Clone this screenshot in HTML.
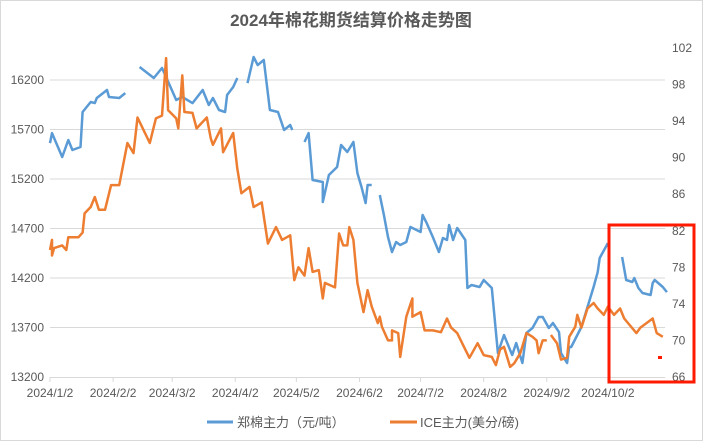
<!DOCTYPE html>
<html><head><meta charset="utf-8"><style>
body{margin:0;background:#fff;}
svg text{font-family:"Liberation Sans","Noto Sans CJK SC",sans-serif;fill:#595959;}
</style></head><body>
<svg id="c" width="703" height="441" viewBox="0 0 703 441">
<rect x="0.5" y="0.5" width="702" height="440" fill="#fff" stroke="#d9d9d9"/>
<text x="351" y="26" text-anchor="middle" font-size="17" font-weight="bold">2024年棉花期货结算价格走势图</text>
<g id="grid"></g><g id="axes"></g><g id="series"></g>
<rect x="609" y="225" width="85" height="157" fill="none" stroke="#ff1a00" stroke-width="3"/>
<rect x="658" y="356" width="4" height="3" fill="#ff1a00"/>
<g>
<line x1="207" y1="422" x2="233" y2="422" stroke="#5b9bd5" stroke-width="3"/>
<text x="237" y="427" font-size="13">郑棉主力（元/吨）</text>
<line x1="390" y1="422" x2="417" y2="422" stroke="#ed7d31" stroke-width="3"/>
<text x="420" y="427" font-size="13">ICE主力(美分/磅)</text>
</g>
</svg>
<script>
const leftTicks=[13200,13700,14200,14700,15200,15700,16200];
const rightTicks=[66,70,74,78,82,86,90,94,98,102];
const monthLabels=["2024/1/2","2024/2/2","2024/3/2","2024/4/2","2024/5/2","2024/6/2","2024/7/2","2024/8/2","2024/9/2","2024/10/2"];
const monthDays=[0,31,60,91,121,152,182,213,244,274];
const zzDays=[0,1,6,9,11,15,16,20,22,23,28,29,34,37,40,44,51,55,57,62,65,70,75,78,80,83,86,87,90,92,94,97,100,102,105,108,112,115,118,119,122,125,127,129,134,134,137,141,143,146,149,151,153,155,156,158,160,162,164,166,168,170,172,175,177,182,183,185,188,191,193,195,196,198,200,204,205,207,211,213,217,220,223,226,227,229,232,234,237,240,242,245,247,250,251,254,255,256,261,264,267,269,270,274,277,281,283,286,287,289,291,295,296,297,301,303];
const zzVals=[15563,15664,15422,15594,15493,15523,15877,15978,15967,16018,16099,16028,16018,16068,null,16331,16220,16321,16230,15998,16028,15967,16099,15947,16018,15897,15877,16048,16129,16220,null,16169,16432,16351,16402,15897,15877,15695,15745,15695,null,15574,15664,15190,15170,14968,15240,15321,15543,15473,15574,15260,15119,14957,15139,15139,null,15038,14836,14614,14463,14564,14533,14564,14715,14665,14836,14755,14614,14463,14604,14584,14735,14584,14705,14584,14099,14129,14109,14180,14099,13442,13624,13473,13422,13543,13341,13644,13695,13806,13806,13695,13745,13654,13442,13341,13503,13503,13705,13907,14109,14260,14402,14553,null,14412,14180,14160,14200,14099,14048,14028,14149,14180,14109,14058];
const iceDays=[0,1,1,2,6,8,9,14,16,17,20,22,24,27,30,34,38,41,43,49,52,55,57,58,62,63,65,66,70,72,77,79,80,84,85,90,92,94,98,100,104,107,111,114,118,120,122,125,127,129,132,134,135,140,142,144,146,147,149,151,154,156,158,161,162,163,166,168,168,171,172,175,178,178,182,184,188,192,195,197,200,204,206,210,213,217,219,221,223,226,228,231,234,237,239,240,242,244,245,246,249,251,254,255,258,259,261,264,267,269,272,274,277,280,282,288,290,293,296,298,301];
const iceVals=[79.9,81.0,79.3,80.1,80.4,79.9,81.3,81.3,81.8,83.9,84.6,85.7,84.3,84.3,87.0,87.0,91.6,90.5,94.4,91.6,94.3,94.6,100.9,95.2,94.3,93.2,99.0,95.0,94.9,93.2,94.4,92.1,91.4,93.2,90.6,92.7,88.8,86.1,86.8,84.6,85.1,80.6,82.4,81.0,81.5,76.6,78.0,77.1,80.1,77.5,77.7,74.6,76.3,75.8,81.7,80.4,80.4,82.4,81.0,76.3,73.1,75.5,73.7,71.9,72.6,71.5,70.0,70.0,71.1,70.8,68.2,72.6,74.6,72.6,73.1,71.1,71.1,70.9,72.4,71.4,70.8,69.0,68.1,69.7,68.4,68.2,67.3,69.0,69.3,67.1,67.5,68.6,70.8,70.4,70.0,68.6,70.0,70.0,null,70.6,69.7,67.9,68.1,70.4,71.5,72.8,71.4,73.5,74.1,73.5,72.8,73.7,72.8,73.5,72.4,70.8,71.4,71.9,72.4,70.8,70.4];

const NS="http://www.w3.org/2000/svg";
const X0=50,X1=665,PX_PER_DAY=2.036;
const xs=d=>X0+d*PX_PER_DAY;
const yL=v=>377-(v-13200)*(297/3000);
const yR=v=>377-(v-66)*(329/36);
function mk(tag,attrs,parent){const e=document.createElementNS(NS,tag);for(const k in attrs)e.setAttribute(k,attrs[k]);parent.appendChild(e);return e;}
const grid=document.getElementById('grid'),axes=document.getElementById('axes'),series=document.getElementById('series');
leftTicks.forEach(v=>{
  const y=yL(v);
  if(v!==13200){const g=mk('line',{x1:X0,x2:X1,y1:y,y2:y,stroke:'#d9d9d9','stroke-width':1},grid);
  
  }
  const t=mk('text',{x:44,y:y+4,'text-anchor':'end','font-size':12},axes);t.textContent=v;
  
  
});
rightTicks.forEach(v=>{
  const t=mk('text',{x:672,y:yR(v)+4,'font-size':12},axes);t.textContent=v;
  
  
});
const ax=mk('line',{x1:X0,x2:X1,y1:377.5,y2:377.5,stroke:'#d9d9d9','stroke-width':1},axes);


monthDays.forEach((d,i)=>{
  const x=xs(d);
  const tk=mk('line',{x1:x,x2:x,y1:377,y2:382,stroke:'#d9d9d9'},axes);
  
  
  const t=mk('text',{x:x,y:397,'text-anchor':'middle','font-size':12},axes);t.textContent=monthLabels[i];
  
  
});
function pathFor(days,vals,yf){let d='',pen=false;for(let i=0;i<days.length;i++){if(vals[i]==null){pen=false;continue;}d+=(pen?'L':'M')+xs(days[i]).toFixed(1)+','+yf(vals[i]).toFixed(1);pen=true;}return d;}
const p1=mk('path',{d:pathFor(zzDays,zzVals,yL),fill:'none',stroke:'#5b9bd5','stroke-width':2.5,'stroke-linejoin':'round'},series);


const p2=mk('path',{d:pathFor(iceDays,iceVals,yR),fill:'none',stroke:'#ed7d31','stroke-width':2.5,'stroke-linejoin':'round'},series);


</script>
</body></html>
